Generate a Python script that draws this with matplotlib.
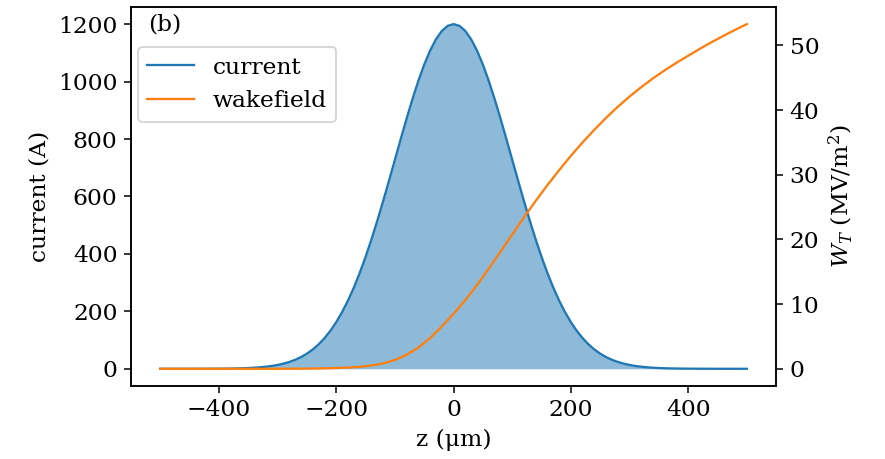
import numpy as np
import matplotlib
matplotlib.use("Agg")
import matplotlib.pyplot as plt

plt.rcParams['font.family'] = ['DejaVu Serif']
plt.rcParams['mathtext.fontset'] = 'dejavuserif'
plt.rcParams['font.size'] = 12.2
plt.rcParams['lines.linewidth'] = 1.2

# longitudinal position (um) for the current, step 10
z_cur = np.arange(-500, 501, 10)

# current profile (A)
current = [
    0, 0, 0, 0, 0, 0, 0.1, 0.1, 0.2, 0.3,
    0.4, 0.6, 0.9, 1.3, 1.8, 2.6, 3.7, 5.2, 7.2, 9.8,
    13.3, 17.9, 23.8, 31.3, 40.8, 52.7, 67.4, 85.2, 106.7, 132.3,
    162.4, 197.4, 237.5, 282.9, 333.6, 389.6, 450.4, 515.5, 584.2, 655.3,
    727.8, 800.4, 871.4, 939.3, 1002.4, 1059.0, 1107.7, 1147.2, 1176.2, 1194.0,
    1200.0,
    1194.0, 1176.2, 1147.2, 1107.7, 1059.0, 1002.4, 939.3, 871.4, 800.4, 727.8,
    655.3, 584.2, 515.5, 450.4, 389.6, 333.6, 282.9, 237.5, 197.4, 162.4,
    132.3, 106.7, 85.2, 67.4, 52.7, 40.8, 31.3, 23.8, 17.9, 13.3,
    9.8, 7.2, 5.2, 3.7, 2.6, 1.8, 1.3, 0.9, 0.6, 0.4,
    0.3, 0.2, 0.1, 0.1, 0, 0, 0, 0, 0, 0,
]

# longitudinal position (um) for the wakefield, step 20
z_wake = np.arange(-500, 501, 20)

# transverse wakefield (MV/m^2)
wake = [
    0, 0, 0, 0, 0, 0, 0, 0, 0, 0, 0,
    0.01, 0.02, 0.04, 0.07, 0.12, 0.19, 0.3, 0.52, 0.82, 1.37,
    2.17, 3.28, 4.74, 6.54, 8.5, 10.6, 12.94, 15.48, 18.1, 20.76,
    23.41, 25.95, 28.39, 30.7, 32.92, 35.0, 36.94, 38.79, 40.5, 42.08,
    43.54, 44.89, 46.14, 47.3, 48.39, 49.47, 50.49, 51.46, 52.39, 53.28,
]

fig = plt.figure(figsize=(885 / 138, 459 / 138), dpi=138)
ax = fig.add_axes([0.148, 0.159, 0.729, 0.826])

l1, = ax.plot(z_cur, current, color='C0', label='current')
ax.fill_between(z_cur, current, color='C0', alpha=0.5, linewidth=0)
ax.set_xlabel('z (μm)')
ax.set_ylabel('current (A)')
ax.set_xticks([-400, -200, 0, 200, 400])
ax.set_yticks([0, 200, 400, 600, 800, 1000, 1200])

ax2 = ax.twinx()
l2, = ax2.plot(z_wake, wake, color='C1', label='wakefield')
ax2.set_ylabel(r'$W_T$ (MV/m$^2$)')
ax2.set_yticks([0, 10, 20, 30, 40, 50])

ax.text(0.026, 0.953, '(b)', transform=ax.transAxes, va='center', ha='left')
ax.legend(handles=[l1, l2], loc='upper left', bbox_to_anchor=(0, 0.912),
          borderaxespad=0.3)

fig.savefig('out.png', dpi=138)
